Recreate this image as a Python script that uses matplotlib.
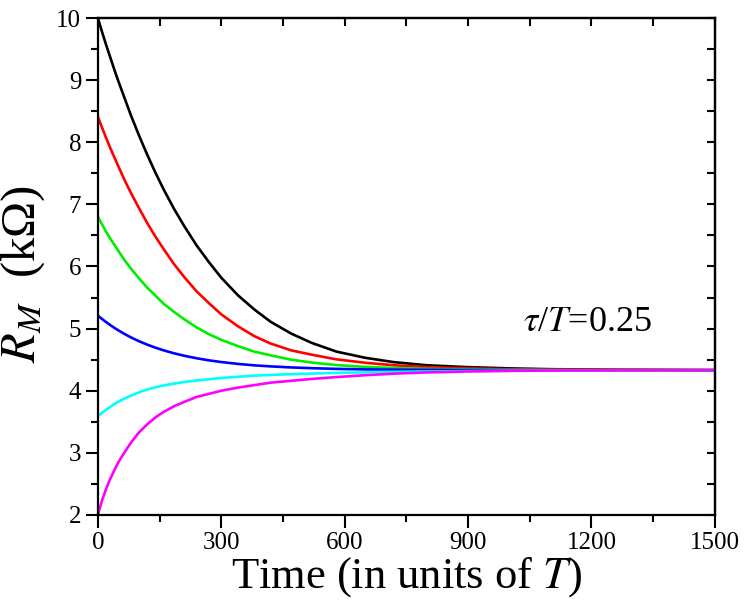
import numpy as np
import matplotlib
matplotlib.use("Agg")
import matplotlib.pyplot as plt

plt.rcParams['font.family'] = ['Liberation Serif', 'DejaVu Serif']
plt.rcParams['mathtext.fontset'] = 'stix'

# Time samples (in units of T)
t = [0, 10, 20, 30, 40, 50, 65, 80, 100, 120, 140, 160, 185, 210, 240, 270, 300,
     340, 380, 420, 470, 520, 580, 650, 720, 800, 900, 1000, 1100, 1250, 1500]

r_black = [10.0, 9.78, 9.57, 9.37, 9.17, 8.98, 8.71, 8.44, 8.11, 7.80, 7.51, 7.24,
           6.93, 6.65, 6.34, 6.07, 5.82, 5.54, 5.31, 5.11, 4.92, 4.77, 4.63, 4.53,
           4.46, 4.41, 4.38, 4.36, 4.347, 4.338, 4.332]
r_red = [8.41, 8.24, 8.07, 7.91, 7.76, 7.61, 7.39, 7.19, 6.94, 6.70, 6.48, 6.28,
         6.04, 5.83, 5.60, 5.41, 5.23, 5.04, 4.88, 4.76, 4.65, 4.58, 4.505, 4.45,
         4.41, 4.38, 4.36, 4.347, 4.34, 4.334, 4.331]
r_green = [6.80, 6.68, 6.56, 6.45, 6.35, 6.25, 6.10, 5.97, 5.81, 5.66, 5.53, 5.40,
           5.27, 5.15, 5.02, 4.91, 4.82, 4.72, 4.63, 4.57, 4.50, 4.454, 4.413, 4.384,
           4.366, 4.352, 4.342, 4.337, 4.334, 4.332, 4.331]
r_blue = [5.21, 5.156, 5.105, 5.058, 5.013, 4.971, 4.913, 4.860, 4.797, 4.742, 4.693,
          4.650, 4.603, 4.563, 4.523, 4.489, 4.462, 4.432, 4.409, 4.392, 4.375, 4.363,
          4.352, 4.344, 4.339, 4.336, 4.333, 4.332, 4.331, 4.33, 4.33]
r_cyan = [3.59, 3.645, 3.695, 3.74, 3.785, 3.825, 3.875, 3.92, 3.975, 4.02, 4.055,
          4.085, 4.115, 4.14, 4.165, 4.185, 4.205, 4.225, 4.242, 4.255, 4.267, 4.277,
          4.287, 4.296, 4.304, 4.31, 4.317, 4.322, 4.325, 4.328, 4.33]
r_magenta = [2.00, 2.23, 2.42, 2.58, 2.72, 2.85, 3.01, 3.16, 3.33, 3.46, 3.57, 3.66,
             3.75, 3.82, 3.90, 3.95, 4.00, 4.05, 4.09, 4.13, 4.16, 4.19, 4.22, 4.25,
             4.275, 4.295, 4.31, 4.32, 4.325, 4.328, 4.33]

series = [r_black, r_red, r_green, r_blue, r_cyan, r_magenta]
colors = ['#000000', '#ff0000', '#00ee00', '#0000ff', '#00ffff', '#ff00ff']

x_ticks = [0, 300, 600, 900, 1200, 1500]
y_ticks = [2, 3, 4, 5, 6, 7, 8, 9, 10]

fig = plt.figure(figsize=(7.47, 6.09), dpi=100)
ax = fig.add_axes([0.131, 0.1544, 0.826, 0.8160])

for ys, c in zip(series, colors):
    ax.plot(t, ys, color=c, lw=1.9, solid_joinstyle='round', solid_capstyle='round')

ax.set_xlim(0, 1500)
ax.set_ylim(2, 10)
ax.set_xticks(x_ticks)
ax.set_yticks(y_ticks)
ax.set_xticks(np.arange(150, 1500, 300), minor=True)
ax.set_yticks(np.arange(2.5, 10, 1.0), minor=True)
ax.tick_params(which='major', direction='out', length=9, width=1.5, labelsize=18, pad=3,
               top=False, right=False)
ax.tick_params(which='minor', direction='out', length=5, width=1.5, top=False, right=False)
for s in ax.spines.values():
    s.set_linewidth(1.6)

secx = ax.secondary_xaxis('top')
secx.set_xticks(np.arange(0, 1501, 150))
secx.tick_params(direction='in', length=6, width=1.5, labeltop=False)
secx.spines['top'].set_linewidth(1.6)
secy = ax.secondary_yaxis('right')
secy.set_yticks(np.arange(2, 10.01, 0.5))
secy.tick_params(direction='in', length=6, width=1.5, labelright=False)
secy.spines['right'].set_linewidth(1.6)

ax.set_xlabel('Time (in units of $T$)', fontsize=32, labelpad=1)
ax.set_ylabel('$R_M$  (kΩ)', fontsize=35)
ax.yaxis.set_label_coords(-0.082, 0.485)
ax.text(1033, 5.1, r'$\tau$/$T$=0.25', fontsize=26, ha='left', va='center')

fig.savefig('out.png', dpi=100)
